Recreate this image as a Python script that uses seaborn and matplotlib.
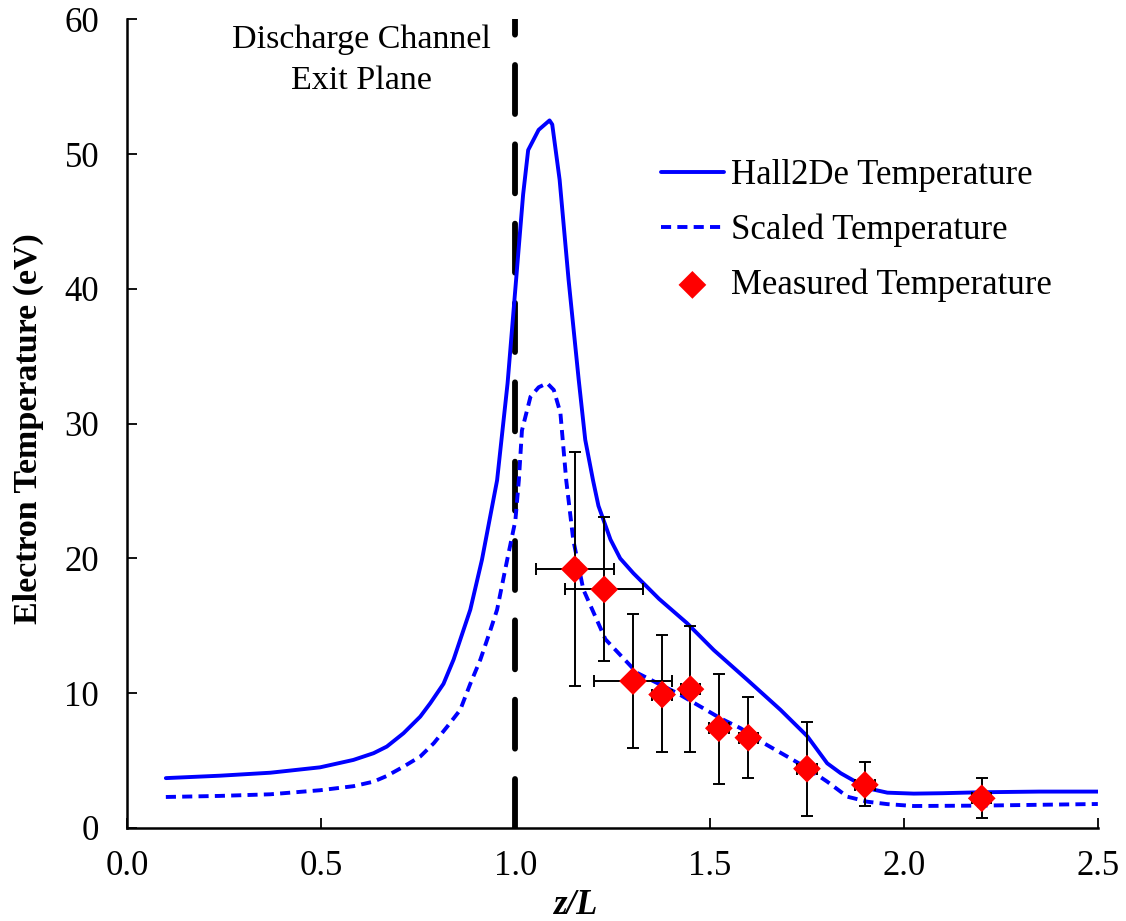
import numpy as np
import pandas as pd
import matplotlib
matplotlib.use("Agg")
import matplotlib.pyplot as plt
import seaborn as sns

# Hall2De simulated temperature
z_sim = [0.10, 0.24, 0.369, 0.497, 0.583, 0.635, 0.669, 0.712, 0.755, 0.781, 0.815,
         0.841, 0.884, 0.914, 0.953, 0.98, 1.00, 1.02, 1.033, 1.06, 1.088, 1.095,
         1.114, 1.137, 1.163, 1.18, 1.20, 1.214, 1.245, 1.27, 1.304, 1.37, 1.442,
         1.511, 1.597, 1.683, 1.752, 1.803, 1.838, 1.906, 1.958, 2.026, 2.10,
         2.198, 2.35, 2.50]
te_sim = [3.7, 3.88, 4.1, 4.5, 5.05, 5.55, 6.04, 7.03, 8.26, 9.26, 10.7,
          12.5, 16.2, 19.9, 25.8, 33.0, 40.0, 47.0, 50.3, 51.8, 52.5, 52.2,
          48.1, 40.7, 33.3, 28.8, 25.8, 23.9, 21.4, 20.0, 18.9, 17.0, 15.2,
          13.2, 11.0, 8.76, 6.8, 4.8, 4.06, 2.95, 2.62, 2.55, 2.58,
          2.65, 2.7, 2.7]

# scaled temperature
z_scl = [0.10, 0.24, 0.369, 0.497, 0.583, 0.635, 0.669, 0.712, 0.755, 0.79, 0.824,
         0.858, 0.884, 0.91, 0.936, 0.953, 0.979, 1.00, 1.009, 1.017, 1.039, 1.06,
         1.082, 1.099, 1.116, 1.131, 1.149, 1.175, 1.232, 1.314, 1.417, 1.477,
         1.528, 1.58, 1.64, 1.70, 1.752, 1.803, 1.855, 1.872, 1.906, 1.958, 2.026,
         2.198, 2.50]
te_scl = [2.3, 2.38, 2.5, 2.8, 3.1, 3.44, 3.86, 4.55, 5.3, 6.29, 7.5,
          8.76, 10.7, 12.5, 14.7, 16.2, 19.9, 22.8, 25.8, 29.5, 32.0, 32.7,
          33.0, 32.5, 30.8, 25.8, 21.4, 17.7, 14.0, 11.5, 10.0, 9.0,
          8.14, 7.4, 6.29, 5.3, 4.43, 3.44, 2.32, 2.2, 1.95, 1.77, 1.63,
          1.66, 1.78]

# measured temperature with error bars
z_meas = [1.153, 1.229, 1.303, 1.378, 1.451, 1.524, 1.600, 1.751, 1.900, 2.201]
te_meas = [19.2, 17.7, 10.9, 9.9, 10.3, 7.4, 6.7, 4.4, 3.2, 2.2]
te_hi = [27.9, 23.1, 15.9, 14.3, 15.0, 11.4, 9.75, 7.9, 4.93, 3.73]
te_lo = [10.5, 12.4, 5.96, 5.66, 5.66, 3.3, 3.73, 0.9, 1.6, 0.76]
z_err = [0.1, 0.1, 0.1, 0.025, 0.025, 0.025, 0.025, 0.025, 0.025, 0.025]

sns.set_style("ticks")
plt.rcParams['font.family'] = ['Liberation Serif', 'DejaVu Serif']
plt.rcParams['text.color'] = 'black'
plt.rcParams['axes.labelcolor'] = 'black'

fig = plt.figure(figsize=(11.26, 9.21), dpi=100)
ax = fig.add_axes([0.1128, 0.101, 0.8622, 0.878])

sim = pd.DataFrame({'z': z_sim, 'Te': te_sim})
scl = pd.DataFrame({'z': z_scl, 'Te': te_scl})
meas = pd.DataFrame({'z': z_meas, 'Te': te_meas})

ax.axvline(1.0, color='black', lw=4.2, ls=(0, (8.4, 5.2)), dash_capstyle='round', zorder=1)

sns.lineplot(data=sim, x='z', y='Te', ax=ax, color='#0000ff', lw=2.8,
             label='Hall2De Temperature', zorder=3)
sns.lineplot(data=scl, x='z', y='Te', ax=ax, color='#0000ff', lw=2.8,
             linestyle=(0, (2.6, 1.6)), label='Scaled Temperature', zorder=3)

yerr = [np.array(te_meas) - np.array(te_lo), np.array(te_hi) - np.array(te_meas)]
ax.errorbar(z_meas, te_meas, yerr=yerr, xerr=z_err, fmt='none', ecolor='black',
            elinewidth=1.4, capsize=4, capthick=1.4, zorder=4)
sns.scatterplot(data=meas, x='z', y='Te', ax=ax, marker='D', color='#ff0000',
                s=200, edgecolor='none', label='Measured Temperature', zorder=5)

ax.set_xlim(0, 2.5)
ax.set_ylim(0, 60)
ax.set_xticks(np.arange(0, 2.51, 0.5))
ax.set_xticklabels([f'{v:.1f}' for v in np.arange(0, 2.51, 0.5)])
ax.set_yticks(range(0, 61, 10))
ax.tick_params(direction='in', length=7, width=1.3, labelsize=25, colors='black')
ax.tick_params(axis='y', pad=20)
ax.tick_params(axis='x', pad=16)
for s in ['top', 'right']:
    ax.spines[s].set_visible(False)
for s in ['left', 'bottom']:
    ax.spines[s].set_linewidth(1.8)
    ax.spines[s].set_color('black')

ax.set_xlabel('z/L', fontsize=25, fontweight='bold', fontstyle='italic')
ax.xaxis.set_label_coords(0.463, -0.075)
ax.set_ylabel('Electron Temperature (eV)', fontsize=24.5, fontweight='bold')
ax.yaxis.set_label_coords(-0.086, 0.494)

ax.text(0.603, 59.6, 'Discharge Channel\nExit Plane', ha='center', va='top',
        fontsize=24.5, linespacing=1.42, color='black')

leg = ax.legend(loc='upper left', bbox_to_anchor=(0.518, 0.866), frameon=False,
                fontsize=25, handlelength=1.8, handletextpad=0.2, labelspacing=0.62,
                markerscale=1.0)
for t in leg.get_texts():
    t.set_color('black')

fig.savefig('out.png', dpi=100)
